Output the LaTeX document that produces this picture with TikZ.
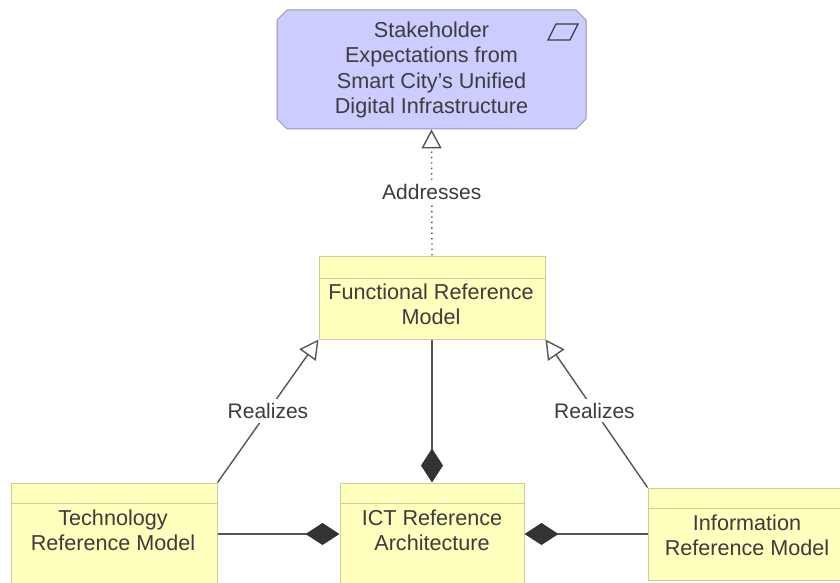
\documentclass[tikz,border=0pt]{standalone}
\usepackage{fontspec}
\setmainfont{Liberation Sans}
\usetikzlibrary{arrows.meta}
\definecolor{goalfill}{RGB}{204,204,255}
\definecolor{goalline}{RGB}{150,150,175}
\definecolor{appfill}{RGB}{255,255,190}
\definecolor{appline}{RGB}{205,205,150}
\definecolor{ink}{RGB}{60,60,60}
\definecolor{wire}{RGB}{85,85,85}
\tikzset{
  modelbox/.style={rectangle, draw=appline, fill=appfill, line width=0.5pt, inner sep=0pt},
  txt/.style={text=ink, align=center, font=\fontsize{10.8}{12.6}\selectfont, inner sep=0pt},
  lbl/.style={text=ink, font=\fontsize{10.5}{12}\selectfont, fill=white, inner sep=2pt},
  realize/.style={draw=wire, line width=0.7pt, -{Triangle[open, length=9.5pt, width=10pt]}},
  compose/.style={draw=wire, line width=0.7pt, {Diamond[length=17pt, width=11pt, fill=black!80, color=black!80]}-},
  address/.style={draw=wire, line width=0.7pt, dotted, -{Triangle[open, length=9.5pt, width=10pt]}}
}
\begin{document}
\begin{tikzpicture}[x=0.5pt, y=-0.5pt]
\useasboundingbox (0,0) rectangle (840,583);
\clip (0,0) rectangle (840,583);

% goal element: rectangle with cut corners
\filldraw[draw=goalline, fill=goalfill, line width=0.5pt]
  (287,10) -- (576,10) -- (586,20) -- (586,119) -- (576,129) -- (287,129)
  -- (277,119) -- (277,20) -- cycle;
\node[inner sep=0pt, minimum width=154.5pt, minimum height=59.5pt] (goal) at (431.5,69.5) {};
\node[txt] (goaltxt) at (431.5,70) {Stakeholder\\Expectations from\\Smart City's Unified\\Digital Infrastructure};
\draw[ink, line width=0.6pt] (548,40) -- (570,40) -- (578,24) -- (556,24) -- cycle;

% reference-model boxes
\node[modelbox, minimum width=113pt, minimum height=41.5pt] (func) at (432,297.5) {};
\draw[appline, line width=0.5pt] (319,278) -- (545,278);
\node[txt] (functxt) at (431,304) {Functional Reference\\Model};

\node[modelbox, minimum width=103pt, minimum height=60pt] (tech) at (114,543) {};
\draw[appline, line width=0.5pt] (11,503) -- (217,503);
\node[txt] (techtxt) at (113,530) {Technology\\Reference Model};

\node[modelbox, minimum width=92pt, minimum height=60pt] (ict) at (432,543) {};
\draw[appline, line width=0.5pt] (340,503) -- (524,503);
\node[txt] (icttxt) at (432,530) {ICT Reference\\Architecture};

\node[modelbox, minimum width=110pt, minimum height=46pt] (info) at (758,534) {};
\draw[appline, line width=0.5pt] (648,508) -- (868,508);
\node[txt] (infotxt) at (747,535) {Information\\Reference Model};

% relationships
\coordinate (ictw) at (ict.west |- 0,534);
\coordinate (icte) at (ict.east |- 0,534);
\coordinate (techr) at (tech.east |- 0,534);
\draw[address] (func.north) -- node[lbl] {Addresses} (goal.south);
\draw[compose] (ict.north) -- (func.south);
\draw[compose] (ictw) -- (techr);
\draw[compose] (icte) -- (info.west);
\draw[realize] (tech.north east) -- node[lbl, pos=0.5] {Realizes} (func.south west);
\draw[realize] (info.north west) -- node[lbl, pos=0.52] {Realizes} (func.south east);
\end{tikzpicture}
\end{document}
